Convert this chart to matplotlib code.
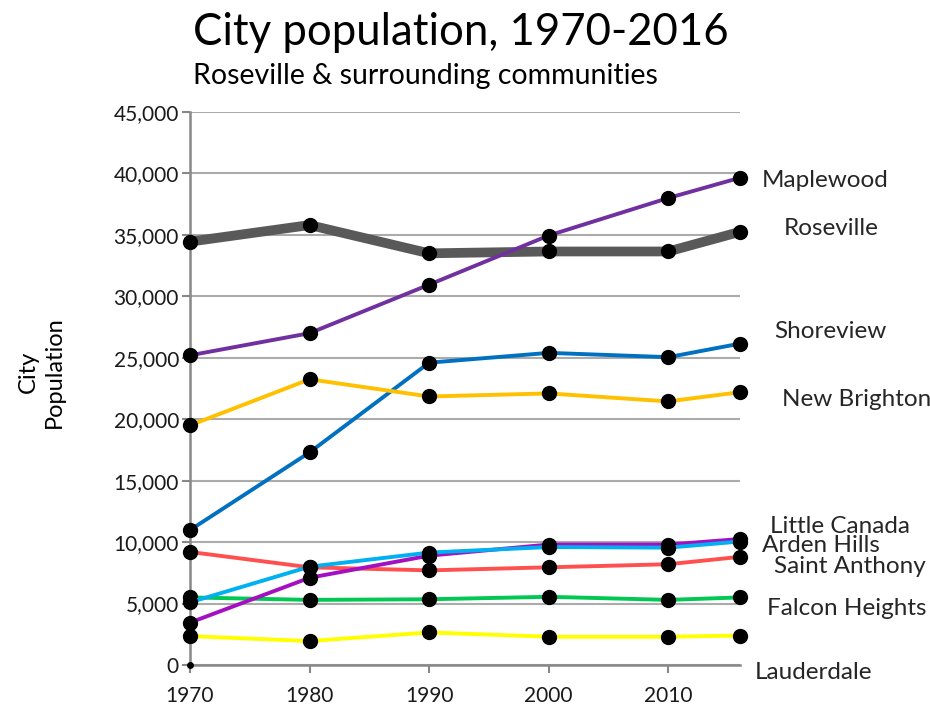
import matplotlib.pyplot as plt

# datos
years = [1970, 1980, 1990, 2000, 2010, 2016]
cities = ["Maplewood", "Roseville", "Shoreview", "New Brighton", "Little Canada",
          "Arden Hills", "Saint Anthony", "Falcon Heights", "Lauderdale"]
maplewood = [25200, 27000, 30950, 34950, 38000, 39650]
roseville = [34450, 35800, 33500, 33650, 33650, 35250]
shoreview = [10980, 17300, 24600, 25400, 25050, 26150]
new_brighton = [19500, 23250, 21850, 22100, 21450, 22200]
little_canada = [3450, 7100, 8900, 9800, 9800, 10250]
arden_hills = [5100, 8000, 9150, 9600, 9550, 10050]
saint_anthony = [9200, 7950, 7700, 7950, 8200, 8800]
falcon_heights = [5500, 5300, 5350, 5550, 5300, 5500]
lauderdale = [2350, 1950, 2650, 2300, 2300, 2400]
origin_point = [0]

series = {
    "Roseville": roseville,
    "Maplewood": maplewood,
    "Shoreview": shoreview,
    "New Brighton": new_brighton,
    "Lauderdale": lauderdale,
    "Falcon Heights": falcon_heights,
    "Saint Anthony": saint_anthony,
    "Little Canada": little_canada,
    "Arden Hills": arden_hills,
}
colores = {
    "Roseville": "#595959",
    "Maplewood": "#7030a0",
    "Shoreview": "#0070c0",
    "New Brighton": "#ffc000",
    "Lauderdale": "#ffff00",
    "Falcon Heights": "#00c853",
    "Saint Anthony": "#ff5050",
    "Little Canada": "#a50fc2",
    "Arden Hills": "#00b0f0",
}
# desplazamiento de la etiqueta respecto al ultimo punto (en pixeles)
etiquetas = {
    "Maplewood": (22, -3),
    "Roseville": (44, 3),
    "Shoreview": (34, 12),
    "New Brighton": (42, -7),
    "Little Canada": (30, 13),
    "Arden Hills": (22, -4),
    "Saint Anthony": (34, -10),
    "Falcon Heights": (27, -11),
    "Lauderdale": (15, -37),
}

plt.rcParams["font.family"] = ["Lato", "DejaVu Sans"]
fig = plt.figure(figsize=(9.3, 7.12), dpi=100)
ax = fig.add_axes([0.2043, 0.066, 0.5914, 0.7767])

for name, vals in series.items():
    lw = 7 if name == "Roseville" else 2.8
    ax.plot(years, vals, color=colores[name], lw=lw, marker="o", markersize=10,
            markerfacecolor="black", markeredgecolor="black", clip_on=False, zorder=3)
ax.plot([years[0]], origin_point, "o", color="black", markersize=4, clip_on=False, zorder=3)

for name in cities:
    dx, dy = etiquetas[name]
    ax.annotate(name, (years[-1], series[name][-1]), xytext=(dx, dy),
                textcoords="offset pixels", fontsize=17.5, color="#262626",
                va="center", ha="left", annotation_clip=False)

ax.set_xlim(1970, 2016)
ax.set_ylim(0, 45000)
ax.set_xticks([1970, 1980, 1990, 2000, 2010])
ax.set_yticks(range(0, 45001, 5000))
ax.set_yticklabels([f"{v:,}" for v in range(0, 45001, 5000)])
ax.tick_params(axis="both", labelsize=15, colors="#888888", labelcolor="#1a1a1a",
               length=6, width=1.5)
ax.tick_params(axis="y", pad=2)
ax.tick_params(axis="x", pad=9)
ax.grid(axis="y", color="#ababab", lw=1.5)
ax.set_axisbelow(True)
for s in ["top", "right"]:
    ax.spines[s].set_visible(False)
for s in ["left", "bottom"]:
    ax.spines[s].set_color("#888888")
    ax.spines[s].set_linewidth(1.8)

ax.set_ylabel("City\nPopulation", fontsize=17, color="black", linespacing=1.3)
ax.yaxis.set_label_coords(-0.228, 0.53)
fig.text(0.207, 0.955, "City population, 1970-2016", fontsize=31.5,
         va="center", ha="left", color="black")
fig.text(0.207, 0.893, "Roseville & surrounding communities", fontsize=20.5,
         va="center", ha="left", color="black")

fig.savefig("out.png", dpi=100)
